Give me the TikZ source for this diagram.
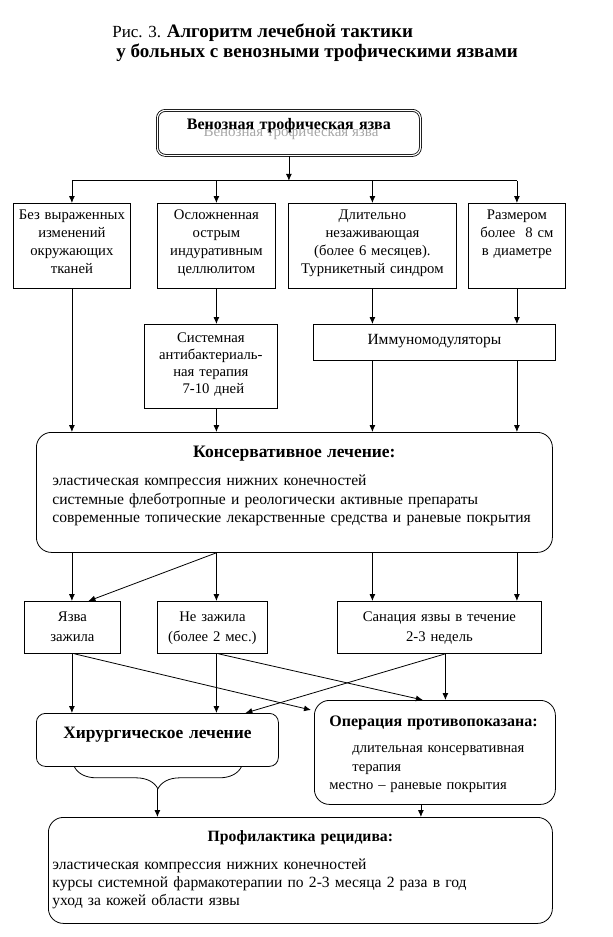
\documentclass[tikz,border=0pt]{standalone}
\usepackage{fontspec}
\setmainfont{Liberation Serif}
\usetikzlibrary{calc}
\usetikzlibrary{arrows.meta}
\usetikzlibrary{decorations.pathreplacing}

\begin{document}
\begin{tikzpicture}[x=1pt, y=-1pt, line width=0.8pt,
	box/.style={draw, inner sep=0pt, align=center, anchor=north west, font=\fontsize{14.7}{18}\selectfont},
	rbox/.style={draw, rounded corners=15pt, inner ysep=0pt, inner xsep=16pt, align=left, anchor=north west, font=\fontsize{15.6}{18.8}\selectfont},
	arr/.style={-{Latex[length=7pt,width=6pt]}}]
	\useasboundingbox (0,0) rectangle (613,937);

	\node[anchor=base west, inner sep=0pt, font=\fontsize{17}{20}\selectfont] (title1) at (112,37) {Рис. 3. \textbf{\fontsize{19}{20}\selectfont Алгоритм лечебной тактики}};
	\node[anchor=base west, inner sep=0pt, font=\fontsize{19}{20}\selectfont\bfseries] (title2) at (116,57) {у больных с венозными трофическими язвами};

	\node[gray!70, anchor=base, inner sep=0pt, font=\fontsize{15}{18}\selectfont] (ulcershade) at (291,136) {Венозная трофическая язва};
	\node[draw, double, double distance=1.2pt, rounded corners=8pt, inner sep=0pt, anchor=north west, text width=263pt, align=center, text height=19pt, text depth=26pt, font=\fontsize{16}{18}\selectfont\bfseries] (ulcer) at (157,110) {Венозная трофическая язва};

	\node[box, text width=117pt, text height=16pt, text depth=69pt] (plain) at (13,203) {Без выраженных\\изменений\\окружающих\\тканей};
	\node[box, text width=118pt, text height=16pt, text depth=69pt] (cellul) at (157,203) {Осложненная\\острым\\индуративным\\целлюлитом};
	\node[box, text width=168pt, text height=16pt, text depth=69pt] (chronic) at (288,203) {Длительно\\незаживающая\\(более 6 месяцев).\\Турникетный синдром};
	\node[box, text width=97pt, text height=16pt, text depth=69pt] (large) at (468,203) {Размером\\более\ \ 8 см\\в диаметре};

	\node[box, text width=133pt, text height=18pt, text depth=66pt, font=\fontsize{14.7}{17}\selectfont] (sysab) at (144,324) {Системная\\антибактериаль-\\ная терапия\\\ 7-10 дней};
	\node[box, text width=242pt, text height=20pt, text depth=16pt, font=\fontsize{15.5}{18}\selectfont] (immun) at (313,324) {Иммуномодуляторы};

	\node[rbox, text width=484pt, text height=25pt, text depth=95pt] (cons) at (36,432) {\hfill\textbf{\fontsize{17.5}{19}\selectfont Консервативное лечение:}\hfill\null\\[9pt]
		эластическая компрессия нижних конечностей\\
		системные флеботропные и реологически активные препараты\\
		современные топические лекарственные средства и раневые покрытия};

	\node[box, text width=96pt, text height=20pt, text depth=32pt, font=\fontsize{14.7}{20}\selectfont] (yazva) at (24,601) {Язва\\зажила};
	\node[box, text width=110pt, text height=20pt, text depth=32pt, font=\fontsize{14.7}{20}\selectfont] (nezaj) at (157,601) {Не зажила\\(более 2 мес.)};
	\node[box, text width=204pt, text height=20pt, text depth=32pt, font=\fontsize{14.7}{20}\selectfont] (sanat) at (337,601) {Санация язвы в течение\\2-3 недель};

	\node[rbox, rounded corners=9pt, inner xsep=0pt, align=center, text width=242pt, text height=25pt, text depth=28pt, font=\fontsize{17.4}{19}\selectfont\bfseries] (surg) at (36,713) {Хирургическое лечение};
	\node[rbox, inner xsep=15pt, text width=211pt, text height=26pt, text depth=78pt, font=\fontsize{14.6}{18.5}\selectfont] (contra) at (314,700) {\textbf{\fontsize{16}{18}\selectfont Операция противопоказана:}\\[8pt]
		\hspace*{23pt}длительная консервативная\\
		\hspace*{23pt}терапия\\
		местно – раневые покрытия};

	\node[rbox, inner xsep=4pt, text width=496pt, text height=24pt, text depth=82pt, font=\fontsize{15.6}{18}\selectfont] (prev) at (48,817) {\hfill\textbf{\fontsize{15.7}{19}\selectfont Профилактика рецидива:}\hfill\null\\[10pt]
		эластическая компрессия нижних конечностей\\
		курсы системной фармакотерапии по 2-3 месяца 2 раза в год\\
		уход за кожей области язвы};

	% branching
	\coordinate (split) at ($(ulcer.south)+(0,25)$);
	\draw[arr] (ulcer.south) -- (split);
	\draw (plain.north |- split) -- (large.north |- split);
	\foreach \b in {plain, cellul, chronic, large}
		\draw[arr] (\b.north |- split) -- (\b.north);

	\draw[arr] (plain.south) -- (plain.south |- cons.north);
	\draw[arr] (cellul.south) -- (cellul.south |- sysab.north);
	\draw[arr] (chronic.south) -- (chronic.south |- immun.north);
	\draw[arr] (large.south) -- (large.south |- immun.north);
	\draw[arr] (cellul.south |- sysab.south) -- (cellul.south |- cons.north);
	\draw[arr] (chronic.south |- immun.south) -- (chronic.south |- cons.north);
	\draw[arr] (large.south |- immun.south) -- (large.south |- cons.north);

	\draw[arr] (plain.south |- cons.south) -- (plain.south |- yazva.north);
	\draw[arr] (cellul.south |- cons.south) -- (cellul.south |- nezaj.north);
	\draw[arr] (cellul.south |- cons.south) -- ($(yazva.north)+(16,0)$);
	\draw[arr] (chronic.south |- cons.south) -- (chronic.south |- sanat.north);
	\draw[arr] (large.south |- cons.south) -- (large.south |- sanat.north);

	\coordinate (yzout) at ($(yazva.south)+(2,0)$);
	\coordinate (nzout) at ($(cellul.south |- nezaj.south)+(2,0)$);
	\coordinate (sanout) at ($(sanat.south)+(6,0)$);
	\draw[arr] (plain.south |- yazva.south) -- (plain.south |- surg.north);
	\draw[arr] (yzout) -- ($(contra.north west)+(-3,10)$);
	\draw[arr] (cellul.south |- nezaj.south) -- (cellul.south |- surg.north);
	\draw[arr] (nzout) -- ($(contra.north)+(-12,0)$);
	\draw[arr] (sanout) -- (sanout |- contra.north);
	\draw[arr] (sanout) -- ($(surg.north)+(88,0)$);

	\draw[decorate, decoration={brace, amplitude=22pt}] ($(surg.south)+(84,0)$) -- ($(surg.south)+(-83,0)$);
	\coordinate (tip) at ($(surg.south)+(0,22)$);
	\coordinate (conout) at ($(contra.south)+(-14,0)$);
	\draw[arr] (tip) -- (tip |- prev.north);
	\draw[arr] (conout) -- (conout |- prev.north);
\end{tikzpicture}
\end{document}
